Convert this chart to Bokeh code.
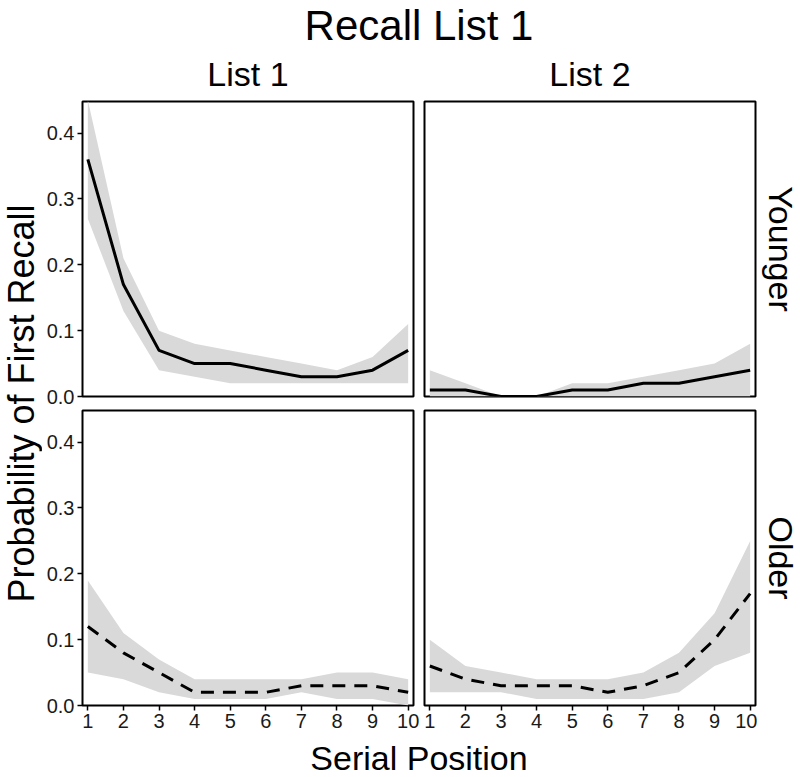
from math import pi
from bokeh.plotting import figure
from bokeh.layouts import column, row
from bokeh.models import Range1d, FixedTicker, NumeralTickFormatter, Label
from bokeh.embed import file_html
from bokeh.resources import INLINE

# ---------------- data ----------------
serial_pos = [1, 2, 3, 4, 5, 6, 7, 8, 9, 10]
y_ticks = [0.0, 0.1, 0.2, 0.3, 0.4]

young_l1_mean = [0.36, 0.17, 0.07, 0.05, 0.05, 0.04, 0.03, 0.03, 0.04, 0.07]
young_l1_lo   = [0.27, 0.13, 0.04, 0.03, 0.02, 0.02, 0.02, 0.02, 0.02, 0.02]
young_l1_hi   = [0.45, 0.21, 0.10, 0.08, 0.07, 0.06, 0.05, 0.04, 0.06, 0.11]

young_l2_mean = [0.01, 0.01, 0.00, 0.00, 0.01, 0.01, 0.02, 0.02, 0.03, 0.04]
young_l2_lo   = [0.00, 0.00, 0.00, 0.00, 0.00, 0.00, 0.00, 0.00, 0.00, 0.00]
young_l2_hi   = [0.04, 0.02, 0.00, 0.00, 0.02, 0.02, 0.03, 0.04, 0.05, 0.08]

older_l1_mean = [0.12, 0.08, 0.05, 0.02, 0.02, 0.02, 0.03, 0.03, 0.03, 0.02]
older_l1_lo   = [0.05, 0.04, 0.02, 0.01, 0.01, 0.01, 0.02, 0.01, 0.01, 0.00]
older_l1_hi   = [0.19, 0.11, 0.07, 0.04, 0.04, 0.04, 0.04, 0.05, 0.05, 0.04]

older_l2_mean = [0.06, 0.04, 0.03, 0.03, 0.03, 0.02, 0.03, 0.05, 0.10, 0.17]
older_l2_lo   = [0.02, 0.02, 0.02, 0.01, 0.01, 0.01, 0.01, 0.02, 0.06, 0.08]
older_l2_hi   = [0.10, 0.06, 0.05, 0.04, 0.04, 0.04, 0.05, 0.08, 0.14, 0.25]

title_text = "Recall List 1"
col_labels = ["List 1", "List 2"]
row_labels = ["Younger", "Older"]
x_title = "Serial Position"
y_title = "Probability of First Recall"

# ---------------- layout constants (pixels) ----------------
FONT = "Liberation Sans"
FW, FH = 331, 295          # frame size of each panel
YLAB_W = 42
LEFT_AX = 40
INNER_R = 7                # right border of left panels
INNER_L = 4                # left border of right panels
OUTER_R = 2
TOP_B = 1                  # top border of top panels
MID_B_TOP = 13             # bottom border of top panels
MID_B_BOT = 1              # top border of bottom panels
BOT_AX = 32
STRIP_W = 43
TOP_H = 100
TOTAL_W = 800
TOTAL_H = 777
SHIFT = 0.34               # label anchor sits this many em above the baseline

X_RANGE = (0.85, 10.15)
Y_RANGE = (0.0, 0.448)
RIBBON = "#d9d9d9"
DASH = "13 9"


def panel(mean, lo, hi, dash, bottom_row, left_col):
    p = figure(
        frame_width=FW, frame_height=FH,
        x_range=Range1d(*X_RANGE), y_range=Range1d(*Y_RANGE),
        output_backend="svg", toolbar_location=None,
        min_border=0,
        min_border_left=LEFT_AX if left_col else INNER_L,
        min_border_right=INNER_R if left_col else OUTER_R,
        min_border_top=MID_B_BOT if bottom_row else TOP_B,
        min_border_bottom=BOT_AX if bottom_row else MID_B_TOP,
        background_fill_color="white", border_fill_color="white",
    )
    p.grid.visible = False
    p.outline_line_color = "black"
    p.outline_line_width = 2
    p.varea(x=serial_pos, y1=lo, y2=hi, fill_color=RIBBON, fill_alpha=1.0)
    p.line(serial_pos, mean, line_color="black", line_width=3,
           line_dash=dash)
    for ax in p.xaxis + p.yaxis:
        ax.axis_line_color = None
        ax.major_tick_in = 0
        ax.major_tick_out = 5
        ax.major_tick_line_width = 1.5
        ax.major_tick_line_color = "black"
        ax.minor_tick_line_color = None
        ax.major_label_text_font = FONT
        ax.major_label_text_font_size = "20px"
        ax.major_label_text_color = "#1a1a1a"
        ax.major_label_standoff = 3
    p.xaxis.ticker = FixedTicker(ticks=serial_pos)
    p.yaxis.ticker = FixedTicker(ticks=y_ticks)
    p.yaxis.formatter = NumeralTickFormatter(format="0.0")
    p.xaxis.visible = bottom_row
    p.yaxis.visible = left_col
    return p


tl = panel(young_l1_mean, young_l1_lo, young_l1_hi, "solid", False, True)
tr = panel(young_l2_mean, young_l2_lo, young_l2_hi, "solid", False, False)
bl = panel(older_l1_mean, older_l1_lo, older_l1_hi, DASH, True, True)
br = panel(older_l2_mean, older_l2_lo, older_l2_hi, DASH, True, False)

top_panel_h = TOP_B + FH + MID_B_TOP
bot_panel_h = MID_B_BOT + FH + BOT_AX
mid_h = top_panel_h + bot_panel_h
bot_h = TOTAL_H - TOP_H - mid_h

frame_left = YLAB_W + LEFT_AX
gap_x = INNER_R + INNER_L
frame_right = frame_left + FW + gap_x + FW
center_x = (frame_left + frame_right) / 2
col_centers = [frame_left + FW / 2, frame_left + FW + gap_x + FW / 2]


def text_fig(w, h):
    f = figure(width=w, height=h, x_range=Range1d(0, w), y_range=Range1d(h, 0),
               x_axis_type=None, y_axis_type=None, output_backend="svg",
               toolbar_location=None, min_border=0,
               background_fill_color="white", border_fill_color="white")
    f.outline_line_color = None
    f.grid.visible = False
    return f


def add_text(f, x, y, text, size, angle=0.0):
    f.add_layout(Label(x=x, y=y, text=text, angle=angle, text_align="center",
                       text_baseline="alphabetic", text_font=FONT,
                       text_font_size=f"{size}px", text_color="black"))


# title + column strip labels
top = text_fig(TOTAL_W, TOP_H)
add_text(top, center_x, 39 - SHIFT * 42, title_text, 42)
for cx, lab in zip(col_centers, col_labels):
    add_text(top, cx, 85 - SHIFT * 34, lab, 34)

# y-axis title (reads bottom to top, baseline at x = 33)
ylab = text_fig(YLAB_W, mid_h)
top_frame_y = TOP_B
bot_frame_y = top_panel_h + MID_B_BOT
y_center = (top_frame_y + bot_frame_y + FH) / 2
add_text(ylab, 33 - SHIFT * 36, y_center, y_title, 36, angle=pi / 2)

# row strip labels (read top to bottom, baseline at x = 12)
strip = text_fig(STRIP_W, mid_h)
row_centers = [top_frame_y + FH / 2, bot_frame_y + FH / 2]
for cy, lab in zip(row_centers, row_labels):
    add_text(strip, 12 + SHIFT * 34, cy, lab, 34, angle=-pi / 2)

# x-axis title
bot = text_fig(TOTAL_W, bot_h)
add_text(bot, center_x, bot_h - 8.2 - SHIFT * 34, x_title, 34)

grid = column(row(tl, tr), row(bl, br))
layout = column(top, row(ylab, grid, strip), bot)

open("out.html", "w").write(file_html(layout, INLINE))
